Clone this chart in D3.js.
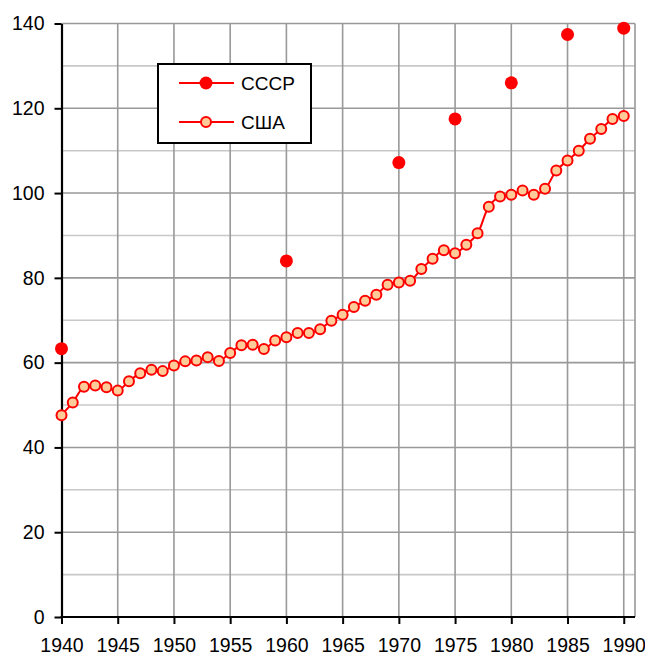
<!DOCTYPE html>
<html>
<head>
<meta charset="utf-8">
<script src="https://cdn.jsdelivr.net/npm/d3@7"></script>
<style>
  body { margin: 0; background: #fff; }
  text { font-family: "Liberation Sans", Arial, sans-serif; }
</style>
</head>
<body>
<div id="container"></div>
<script>
/* CONSTANTS AND GLOBALS */
const width = 645,
  height = 657,
  margin = { top: 23.5, bottom: 40, left: 61.5, right: 10 };

// years and values
const ussrYears = [1940, 1960, 1970, 1975, 1980, 1985, 1990];
const ussrValues = [63.3, 84.0, 107.2, 117.5, 126.0, 137.4, 138.9];

const usaYears = d3.range(1940, 1991);
const usaValues = [
  47.6, 50.6, 54.3, 54.6, 54.2, 53.4, 55.6, 57.5, 58.3, 58.0,
  59.3, 60.3, 60.5, 61.3, 60.4, 62.3, 64.1, 64.2, 63.2, 65.2,
  66.0, 67.0, 67.0, 67.9, 69.9, 71.3, 73.1, 74.6, 76.0, 78.4,
  78.9, 79.3, 82.1, 84.5, 86.5, 85.8, 87.8, 90.5, 96.8, 99.2,
  99.6, 100.6, 99.6, 101.0, 105.3, 107.7, 110.0, 112.8, 115.1, 117.5,
  118.2
];

const xTicks = d3.range(1940, 1991, 5);
const yTicks = d3.range(0, 141, 20);
const yGrid = d3.range(10, 141, 10);
const legendLabels = ["СССР", "США"];

const ussr = ussrYears.map((y, i) => ({ year: y, value: ussrValues[i] }));
const usa = usaYears.map((y, i) => ({ year: y, value: usaValues[i] }));

/* SCALES */
const xScale = d3.scaleLinear()
  .domain([1940, 1991])
  .range([margin.left, width - margin.right]);

const yScale = d3.scaleLinear()
  .domain([0, 140])
  .range([height - margin.bottom, margin.top]);

/* SVG */
const svg = d3.select("#container")
  .append("svg")
  .attr("width", width)
  .attr("height", height);

// horizontal grid: darker on 20s, lighter on 10s
svg.append("g")
  .selectAll("line")
  .data(yGrid)
  .join("line")
  .attr("x1", margin.left)
  .attr("x2", width - margin.right)
  .attr("y1", d => yScale(d))
  .attr("y2", d => yScale(d))
  .attr("stroke", d => d % 20 === 0 ? "#999" : "#c8c8c8")
  .attr("stroke-width", 1.6);

// vertical grid every 5 years
svg.append("g")
  .selectAll("line")
  .data(xTicks.slice(1))
  .join("line")
  .attr("x1", d => xScale(d))
  .attr("x2", d => xScale(d))
  .attr("y1", yScale(0))
  .attr("y2", yScale(140))
  .attr("stroke", "#999")
  .attr("stroke-width", 1.6);

// right border
svg.append("line")
  .attr("x1", xScale(1991)).attr("x2", xScale(1991))
  .attr("y1", yScale(0)).attr("y2", yScale(140))
  .attr("stroke", "#999")
  .attr("stroke-width", 1.6);

/* AXES */
const xAxis = d3.axisBottom(xScale)
  .tickValues(xTicks)
  .tickFormat(d3.format("d"))
  .tickSize(7)
  .tickSizeOuter(0)
  .tickPadding(14);

const yAxis = d3.axisLeft(yScale)
  .tickValues(yTicks)
  .tickSize(7)
  .tickSizeOuter(0)
  .tickPadding(10);

const xAxisGroup = svg.append("g")
  .attr("transform", `translate(0, ${yScale(0)})`)
  .call(xAxis);

const yAxisGroup = svg.append("g")
  .attr("transform", `translate(${margin.left}, 0)`)
  .call(yAxis);

[xAxisGroup, yAxisGroup].forEach(g => {
  g.select(".domain").attr("stroke", "#000").attr("stroke-width", 2.2);
  g.selectAll(".tick line").attr("stroke", "#000").attr("stroke-width", 2);
  g.selectAll(".tick text")
    .attr("fill", "#000")
    .style("font-size", "19.5px")
    .style("font-family", "'Liberation Sans', Arial, sans-serif");
});
// extend the x domain line back to the y axis
xAxisGroup.select(".domain").attr("d", `M${margin.left - 1},0H${width - margin.right}`);

/* USA LINE */
const lineGen = d3.line()
  .x(d => xScale(d.year))
  .y(d => yScale(d.value))
  .curve(d3.curveCatmullRom);

svg.append("path")
  .datum(usa)
  .attr("fill", "none")
  .attr("stroke", "#ff0000")
  .attr("stroke-width", 2)
  .attr("d", lineGen);

svg.append("g")
  .selectAll("circle")
  .data(usa)
  .join("circle")
  .attr("cx", d => xScale(d.year))
  .attr("cy", d => yScale(d.value))
  .attr("r", 5)
  .attr("fill", "#ffcc99")
  .attr("stroke", "#ff0000")
  .attr("stroke-width", 2);

/* USSR POINTS */
svg.append("g")
  .selectAll("circle")
  .data(ussr)
  .join("circle")
  .attr("cx", d => xScale(d.year))
  .attr("cy", d => yScale(d.value))
  .attr("r", 6.5)
  .attr("fill", "#ff0000");

/* LEGEND */
const legend = svg.append("g")
  .attr("transform", "translate(158, 64)");

legend.append("rect")
  .attr("width", 153)
  .attr("height", 79)
  .attr("fill", "#fff")
  .attr("stroke", "#000")
  .attr("stroke-width", 2);

const rows = legend.selectAll(".row")
  .data(legendLabels)
  .join("g")
  .attr("class", "row")
  .attr("transform", (d, i) => `translate(0, ${19 + i * 39})`);

rows.append("line")
  .attr("x1", 21).attr("x2", 76)
  .attr("stroke", "#ff0000")
  .attr("stroke-width", 2);

rows.append("circle")
  .attr("cx", 48)
  .attr("r", (d, i) => i === 0 ? 6.5 : 5)
  .attr("fill", (d, i) => i === 0 ? "#ff0000" : "#ffcc99")
  .attr("stroke", (d, i) => i === 0 ? "none" : "#ff0000")
  .attr("stroke-width", 2);

rows.append("text")
  .attr("x", 83)
  .attr("dy", "0.35em")
  .style("font-size", "19px")
  .text(d => d);
</script>
</body>
</html>
